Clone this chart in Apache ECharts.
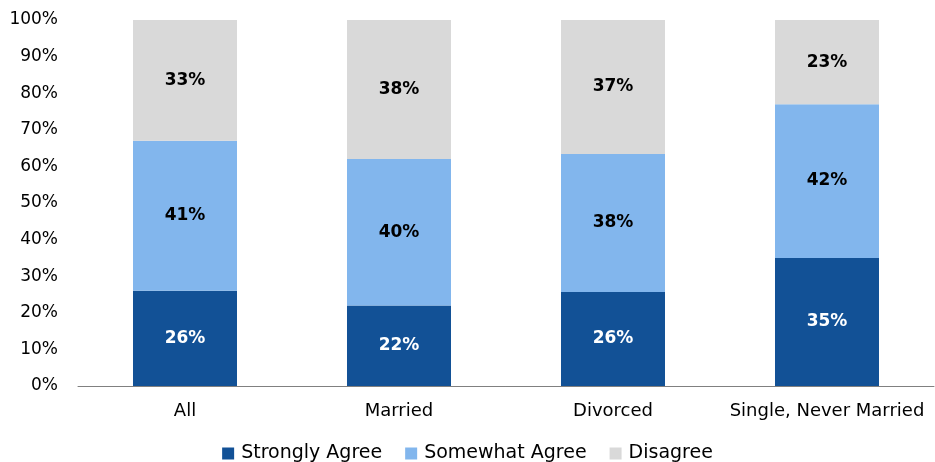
<!DOCTYPE html>
<html>
<head>
<meta charset="utf-8">
<script src="https://cdn.jsdelivr.net/npm/echarts@6/dist/echarts.min.js"></script>
<style>
  html, body { margin: 0; padding: 0; background: #fff; }
  #chart { width: 935px; height: 462px; }
</style>
</head>
<body>
<div id="chart"></div>
<script>
const categories = ['All', 'Married', 'Divorced', 'Single, Never Married'];
const seriesNames = ['Strongly Agree', 'Somewhat Agree', 'Disagree'];
const stronglyAgree = [26, 22, 25.7, 35];
const somewhatAgree = [41, 40, 37.7, 42];
const disagree = [33, 38, 36.6, 23];
const yTicks = [0, 10, 20, 30, 40, 50, 60, 70, 80, 90, 100];

const colors = ['#125196', '#82B6ED', '#D9D9D9'];
const labelColors = ['#ffffff', '#000000', '#000000'];
const font = '"DejaVu Sans", sans-serif';

const chart = echarts.init(document.getElementById('chart'), null, { renderer: 'canvas' });

const makeSeries = (name, data, i) => ({
  name: name,
  type: 'bar',
  stack: 'total',
  barWidth: '48.6%',
  data: data,
  itemStyle: { color: colors[i] },
  label: {
    show: true,
    position: 'inside',
    formatter: (p) => Math.round(p.value) + '%',
    color: labelColors[i],
    fontFamily: font,
    fontWeight: 'bold',
    fontSize: 17
  }
});

const option = {
  animation: false,
  color: colors,
  grid: { left: 78, right: 1, top: 20, bottom: 76, containLabel: false },
  legend: {
    data: seriesNames,
    top: 439,
    left: 'center',
    icon: 'rect',
    itemWidth: 12,
    itemHeight: 12,
    itemGap: 23,
    textStyle: { fontFamily: font, fontSize: 19, color: '#000', padding: [0, 0, 0, 2] }
  },
  xAxis: {
    type: 'category',
    data: categories,
    axisLine: { show: true, lineStyle: { color: '#808080', width: 1 } },
    axisTick: { show: false },
    axisLabel: { fontFamily: font, fontSize: 18, color: '#000', margin: 16, interval: 0 }
  },
  yAxis: {
    type: 'value',
    min: yTicks[0],
    max: yTicks[yTicks.length - 1],
    interval: 10,
    axisLine: { show: false },
    axisTick: { show: false },
    splitLine: { show: false },
    axisLabel: {
      formatter: '{value}%',
      fontFamily: font,
      fontSize: 17,
      color: '#000',
      margin: 20
    }
  },
  series: [
    makeSeries(seriesNames[0], stronglyAgree, 0),
    makeSeries(seriesNames[1], somewhatAgree, 1),
    makeSeries(seriesNames[2], disagree, 2)
  ]
};

chart.setOption(option);
</script>
</body>
</html>
